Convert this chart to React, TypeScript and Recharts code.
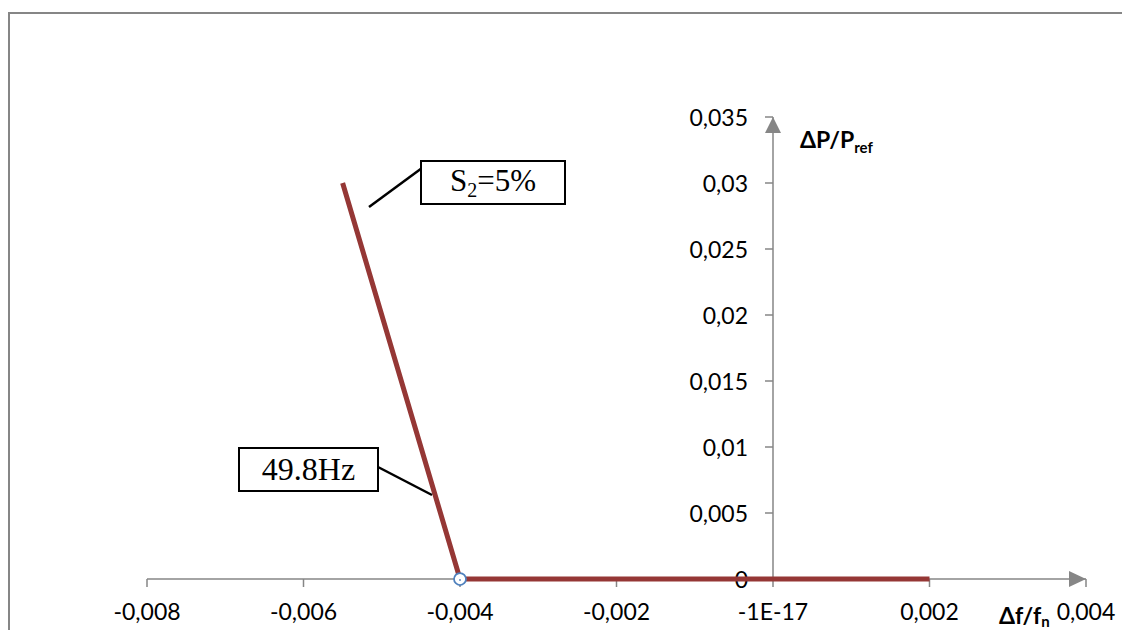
import React from "react";
import { LineChart, Line, XAxis, YAxis, ReferenceLine, ReferenceDot } from "recharts";

// Droop characteristic: relative frequency deviation vs relative power.
const DF = [-0.0055, -0.004, 0.002];
const DP = [0.03, 0, 0];
// knee of the characteristic (49.8 Hz), marked with a hollow circle
const KNEE_DF = -0.004;
const KNEE_DP = 0;

const X_TICKS = [-0.008, -0.006, -0.004, -0.002, 0, 0.002, 0.004];
const X_TICK_LABELS = ["-0,008", "-0,006", "-0,004", "-0,002", "-1E-17", "0,002", "0,004"];
const Y_TICKS = [0, 0.005, 0.01, 0.015, 0.02, 0.025, 0.03, 0.035];
const Y_TICK_LABELS = ["0", "0,005", "0,01", "0,015", "0,02", "0,025", "0,03", "0,035"];

const AXIS_GRAY = "#868686";
const LINE_RED = "#953735";
const TICK_FONT = { fontFamily: "Lato", fontSize: 23, fill: "#000" } as const;

const rows = DF.map((df, i) => ({ df, dp: DP[i] }));

function xLabel(v: number): string {
  const i = X_TICKS.findIndex((t) => Math.abs(t - v) < 1e-9);
  return i >= 0 ? X_TICK_LABELS[i] : String(v);
}

function yTick(label: string) {
  return (p: any) => (
    <g>
      <line x1={p.cx - 8} y1={p.cy} x2={p.cx} y2={p.cy} stroke={AXIS_GRAY} strokeWidth={1.5} />
      <text x={p.cx - 25} y={p.cy} textAnchor="end" dominantBaseline="central" {...TICK_FONT}>
        {label}
      </text>
    </g>
  );
}

const arrowUp = (p: any) => (
  <polygon points={`${p.cx},${p.cy} ${p.cx - 8},${p.cy + 16} ${p.cx + 8},${p.cy + 16}`} fill={AXIS_GRAY} />
);
const arrowRight = (p: any) => (
  <polygon points={`${p.cx},${p.cy} ${p.cx - 17},${p.cy - 8} ${p.cx - 17},${p.cy + 8}`} fill={AXIS_GRAY} />
);

const kneeMarker = (p: any) => (
  <g>
    <circle cx={p.cx} cy={p.cy} r={6} fill="#fff" stroke="#4f81bd" strokeWidth={1.75} />
    <circle cx={p.cx} cy={p.cy + 1} r={0.9} fill="#4f81bd" />
  </g>
);

const box: React.CSSProperties = {
  position: "absolute",
  border: "2px solid #000",
  background: "#fff",
  boxSizing: "border-box",
  fontFamily: "'Liberation Serif', serif",
  color: "#000",
  display: "flex",
  alignItems: "center",
  justifyContent: "center",
};

export default function App() {
  return (
    <div style={{ position: "relative", width: 1122, height: 630, overflow: "hidden", background: "#fff" }}>
      <style>{"html,body{margin:0;padding:0;overflow:hidden}"}</style>
      <div
        style={{
          position: "absolute",
          left: 8,
          top: 12,
          width: 1300,
          height: 800,
          borderLeft: `2.5px solid ${AXIS_GRAY}`,
          borderTop: `2.5px solid ${AXIS_GRAY}`,
        }}
      />
      <div style={{ position: "absolute", left: 0, top: 0 }}>
        <LineChart width={1122} height={630} data={rows} margin={{ top: 117, right: 36, left: 147, bottom: 11 }}>
          <XAxis
            dataKey="df"
            type="number"
            domain={[-0.008, 0.004]}
            ticks={X_TICKS}
            tickFormatter={xLabel}
            interval={0}
            height={40}
            tickSize={8}
            tickMargin={17}
            axisLine={{ stroke: AXIS_GRAY, strokeWidth: 1.5 }}
            tickLine={{ stroke: AXIS_GRAY, strokeWidth: 1.5 }}
            tick={TICK_FONT}
          />
          <YAxis type="number" domain={[0, 0.035]} hide />
          <ReferenceLine x={0} stroke={AXIS_GRAY} strokeWidth={1.5} />
          {Y_TICKS.map((v, i) => (
            <ReferenceDot key={v} x={0} y={v} r={0} shape={yTick(Y_TICK_LABELS[i])} />
          ))}
          <ReferenceDot x={0} y={0.035} r={0} shape={arrowUp} />
          <ReferenceDot x={0.004} y={0} r={0} shape={arrowRight} />
          <Line
            dataKey="dp"
            stroke={LINE_RED}
            strokeWidth={5}
            dot={false}
            activeDot={false}
            isAnimationActive={false}
            zIndex={2000}
          />
          <ReferenceDot x={KNEE_DF} y={KNEE_DP} r={6} shape={kneeMarker} zIndex={2100} />
        </LineChart>
      </div>
      <svg width={1122} height={630} style={{ position: "absolute", left: 0, top: 0, pointerEvents: "none" }}>
        <line x1={369} y1={207} x2={422} y2={168} stroke="#000" strokeWidth={2.5} />
        <line x1={378} y1={467} x2={432} y2={495} stroke="#000" strokeWidth={2.5} />
        <text x={800} y={148} fontFamily="Lato" fontWeight="bold" fontSize={23} fill="#000">
          ΔP/P<tspan fontSize={15} dy={5}>ref</tspan>
        </text>
        <text x={999} y={624} fontFamily="Lato" fontWeight="bold" fontSize={23} fill="#000">
          Δf/f<tspan fontSize={15} dy={3}>n</tspan>
        </text>
      </svg>
      <div style={{ ...box, left: 420, top: 160, width: 146, height: 45, fontSize: 31 }}>
        <span>
          S<sub style={{ fontSize: 20, verticalAlign: "-6px" }}>2</sub>=5%
        </span>
      </div>
      <div style={{ ...box, left: 238, top: 447, width: 141, height: 45, fontSize: 32 }}>49.8Hz</div>
    </div>
  );
}
